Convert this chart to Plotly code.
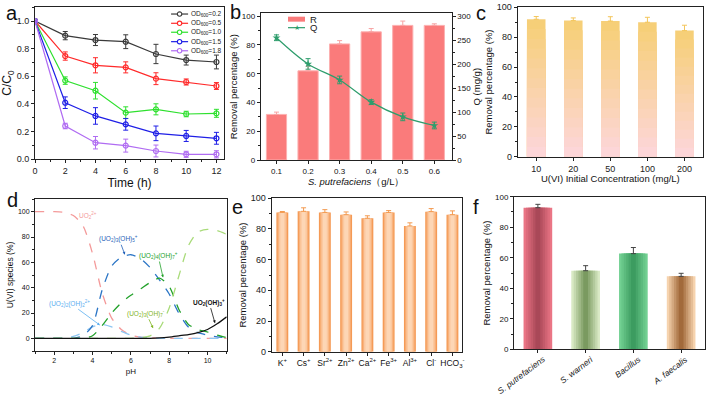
import plotly.graph_objects as go

FONT = "Liberation Sans, Arial, sans-serif"
AX = "#222222"

# ---------------- Panel a data ----------------
time_h = [0, 2, 4, 6, 8, 10, 12]
od_names = ["OD<sub>600</sub>=0.2", "OD<sub>600</sub>=0.5", "OD<sub>600</sub>=1.0",
            "OD<sub>600</sub>=1.5", "OD<sub>600</sub>=1.8"]
od_colors = ["#3a3a3a", "#ff2a2a", "#2ee02e", "#1f1fe6", "#b06cf2"]
od02 = [1.0, 0.894, 0.862, 0.850, 0.761, 0.717, 0.703]
od02_err = [0, 0.03, 0.04, 0.05, 0.07, 0.036, 0.05]
od05 = [1.0, 0.746, 0.679, 0.664, 0.582, 0.558, 0.529]
od05_err = [0, 0.03, 0.055, 0.04, 0.043, 0.022, 0.025]
od10 = [1.0, 0.568, 0.495, 0.336, 0.360, 0.326, 0.331]
od10_err = [0, 0.027, 0.06, 0.042, 0.04, 0.02, 0.029]
od15 = [1.0, 0.408, 0.312, 0.251, 0.186, 0.167, 0.150]
od15_err = [0, 0.042, 0.06, 0.042, 0.053, 0.04, 0.043]
od18 = [1.0, 0.239, 0.118, 0.097, 0.058, 0.034, 0.034]
od18_err = [0, 0.02, 0.045, 0.047, 0.043, 0.022, 0.026]

# ---------------- Panel b data ----------------
dose = [0.1, 0.2, 0.3, 0.4, 0.5, 0.6]
removal_R = [31.7, 62.0, 80.7, 89.1, 93.6, 93.6]
removal_R_err = [1.6, 3.2, 2.3, 2.3, 3.0, 1.1]
capacity_Q = [255, 200.4, 167, 120.7, 90, 72]
capacity_Q_err = [6, 11, 8, 5, 8, 7]

# ---------------- Panel c data ----------------
conc_labels = ["10", "20", "50", "100", "200"]
conc_removal = [92.0, 91.1, 90.8, 90.0, 84.4]
conc_err = [1.8, 1.8, 2.9, 3.3, 3.6]

# ---------------- Panel d data ----------------
pH = [1, 1.5, 2, 2.5, 3, 3.5, 4, 4.5, 5, 5.5, 6, 6.5, 7, 7.5, 8, 8.5, 9, 9.5, 10, 10.5, 11]
sp_UO2 = [100, 100, 100, 99.5, 97, 89, 67, 36, 16, 7, 2.5, 1, 0.4, 0, 0, 0, 0, 0, 0, 0, 0]
sp_22 = [0, 0, 0, 0, 1.5, 4.5, 9, 11, 9, 5.5, 2.5, 1, 0.3, 0, 0, 0, 0, 0, 0, 0, 0]
sp_35 = [0, 0, 0, 0, 0, 2, 10, 38, 57, 64, 66, 63, 56, 46, 35, 20, 9, 4.5, 2.6, 1.2, 0.3]
sp_47 = [0, 0, 0, 0, 0, 0, 2, 10, 20, 28, 34, 39, 44, 47.5, 41, 23, 11, 7, 5, 2.5, 0.5]
sp_37 = [0, 0, 0, 0, 0, 0, 0, 0, 0, 0, 0, 0.5, 2, 8, 24, 49, 73, 84, 86, 85, 82]
sp_13 = [0, 0, 0, 0, 0, 0, 0, 0, 0, 0, 0, 0, 0, 0.3, 1, 2, 3, 4.5, 7, 11.5, 17]

# ---------------- Panel e data ----------------
ion_labels = ["K<sup>+</sup>", "Cs<sup>+</sup>", "Sr<sup>2+</sup>", "Zn<sup>2+</sup>", "Ca<sup>2+</sup>",
              "Fe<sup>3+</sup>", "Al<sup>3+</sup>", "Cl<sup>-</sup>", "HCO<sub>3</sub><sup>-</sup>"]
ion_removal = [90.8, 91.5, 90.8, 89.3, 87.0, 90.8, 82.0, 91.3, 89.3]
ion_err = [0.6, 2.3, 1.8, 1.8, 1.6, 1.2, 2.0, 2.0, 2.5]

# ---------------- Panel f data ----------------
strain_labels = ["<i>S. putrefaciens</i>", "<i>S. warneri</i>", "<i>Bacillus</i>", "<i>A. faecalis</i>"]
strain_removal = [92.8, 51.5, 62.7, 47.8]
strain_err = [2.2, 3.3, 4.0, 2.0]

fig = go.Figure()

# ---------- helpers ----------
def hex2rgb(h):
    h = h.lstrip("#")
    return tuple(int(h[i:i + 2], 16) for i in (0, 2, 4))

def mix(c1, c2, t):
    a, b = hex2rgb(c1), hex2rgb(c2)
    return "rgb(%d,%d,%d)" % tuple(round(a[i] + (b[i] - a[i]) * t) for i in range(3))

def ax(**kw):
    d = dict(showline=True, linecolor=AX, linewidth=1, mirror=True, ticks="outside",
             ticklen=3, tickwidth=1, tickcolor=AX, showgrid=False, zeroline=False, automargin=False,
             tickfont=dict(size=9, color="#222"), title=dict(font=dict(size=10, color="#111")))
    d.update(kw)
    return d

# ---------- Panel a ----------
series_a = [(od02, od02_err), (od05, od05_err), (od10, od10_err), (od15, od15_err), (od18, od18_err)]
for (vals, errs), col, nm in zip(series_a, od_colors, od_names):
    fig.add_trace(go.Scatter(x=time_h, y=vals, name=nm, mode="lines+markers",
                             line=dict(color=col, width=1.2),
                             marker=dict(symbol="circle-open", size=5, color=col, line=dict(width=1.2)),
                             error_y=dict(type="data", array=errs, color=col, thickness=1, width=2.5),
                             xaxis="x", yaxis="y"))

# ---------- Panel b ----------
fig.add_trace(go.Bar(x=dose, y=removal_R, width=0.064, marker=dict(color="#fa7b7b", line=dict(color="#fcb0b0", width=1)),
                     error_y=dict(type="data", array=removal_R_err, arrayminus=[0] * len(dose), symmetric=False,
                                  color="#f7a3a3", thickness=1, width=2.5),
                     xaxis="x2", yaxis="y2", name="R"))
fig.add_trace(go.Scatter(x=dose, y=capacity_Q, mode="lines+markers", line=dict(color="#2e9d6c", width=1.2, shape="spline"),
                         marker=dict(symbol="star", size=6, color="#2e9d6c"),
                         error_y=dict(type="data", array=capacity_Q_err, color="#2e9d6c", thickness=1, width=2.5),
                         xaxis="x2", yaxis="y3", name="Q"))

# ---------- Panel c (vertical gradient: pink bottom -> yellow top) ----------
xc = list(range(len(conc_labels)))
NC = 14
for k in range(NC):
    frac = 1 - k / NC
    col = mix("#f6cf78", "#fdd6d8", k / (NC - 1))
    fig.add_trace(go.Bar(x=xc, y=[v * frac for v in conc_removal], width=0.5, marker=dict(color=col, line=dict(width=0)),
                         error_y=(dict(type="data", array=conc_err, arrayminus=[0] * len(xc), symmetric=False,
                                       color="#f3c55a", thickness=1, width=2.5) if k == 0 else None),
                         xaxis="x3", yaxis="y4", hoverinfo="skip"))

# ---------- Panel d ----------
species = [
    (sp_UO2, "#f49a9a", "dash"),
    (sp_22, "#8ec6f2", "dash"),
    (sp_35, "#2c76c6", "dash"),
    (sp_47, "#22a12a", "dash"),
    (sp_37, "#a9db7a", "dash"),
    (sp_13, "#111111", "solid"),
]
for vals, col, dash in species:
    fig.add_trace(go.Scatter(x=pH, y=vals, mode="lines", line=dict(color=col, width=1.3, dash=dash, shape="spline", smoothing=0.7),
                             xaxis="x4", yaxis="y5"))

# ---------- Panel e (horizontal shading) ----------
xe = list(range(len(ion_labels)))
e_layers = [(0.56, "#f59a55"), (0.44, "#f8b27c"), (0.32, "#fbc89f"), (0.18, "#fdd6b5")]
for i, (w, col) in enumerate(e_layers):
    last = i == len(e_layers) - 1
    fig.add_trace(go.Bar(x=xe, y=ion_removal, width=w, marker=dict(color=col, line=dict(width=0)),
                         error_y=(dict(type="data", array=ion_err, arrayminus=[0] * len(xe), symmetric=False,
                                       color="#f39a50", thickness=1, width=2.5) if last else None),
                         xaxis="x5", yaxis="y6", hoverinfo="skip"))

# ---------- Panel f (cylinder shading) ----------
xf = list(range(len(strain_labels)))
edge_cols = ["#ea7585", "#d8e9c4", "#72d092", "#f6d3ae"]
mid_cols = ["#a94858", "#7a9a60", "#3c9c60", "#a26a3b"]
NF = 6
for k in range(NF):
    t = k / (NF - 1)
    w = 0.6 * (1 - k / NF)
    cols = [mix(e, m, t) for e, m in zip(edge_cols, mid_cols)]
    last = k == NF - 1
    fig.add_trace(go.Bar(x=xf, y=strain_removal, width=w, marker=dict(color=cols, line=dict(width=0)),
                         error_y=(dict(type="data", array=strain_err, arrayminus=[0] * len(xf), symmetric=False,
                                       color="#444", thickness=1, width=2.5) if last else None),
                         xaxis="x6", yaxis="y7", hoverinfo="skip"))

W, H = 708.0, 397.0
def dx(a, b): return [a / W, b / W]
def dy(top, bot): return [1 - bot / H, 1 - top / H]

minor = dict(ticks="outside", ticklen=2, tickcolor=AX, showgrid=False)

fig.update_layout(
    width=708, height=397, margin=dict(l=0, r=0, t=0, b=0, autoexpand=False),
    paper_bgcolor="white", plot_bgcolor="white", showlegend=False, barmode="overlay",
    font=dict(family=FONT, color="#111"),
    # a
    xaxis=ax(domain=dx(35, 224), anchor="y", range=[0, 12.5], tickvals=[0, 2, 4, 6, 8, 10, 12], minor=dict(dtick=1, **minor),
             title=dict(text="Time (h)", font=dict(size=12), standoff=2)),
    yaxis=ax(domain=dy(7.2, 159), anchor="x", range=[0, 1.1], tickvals=[0, 0.2, 0.4, 0.6, 0.8, 1.0], tickformat=".1f",
             minor=dict(dtick=0.1, **minor), title=dict(text="C/C<sub>0</sub>", font=dict(size=12), standoff=2)),
    # b
    xaxis2=ax(domain=dx(260.7, 451.7), anchor="y2", range=[0.05, 0.655], tickvals=dose, tickfont=dict(size=8),
              title=dict(text="<i>S. putrefaciens</i>（g/L）", font=dict(size=9.5), standoff=2)),
    yaxis2=ax(domain=dy(13.3, 160), anchor="x2", range=[0, 102], tickvals=[0, 20, 40, 60, 80, 100], mirror=False,
              tickfont=dict(size=8), minor=dict(dtick=10, **minor),
              title=dict(text="Removal percentage (%)", font=dict(size=9.5), standoff=2)),
    yaxis3=ax(domain=dy(13.3, 160), anchor="x2", overlaying="y2", side="right", range=[0, 306],
              tickvals=[0, 50, 100, 150, 200, 250, 300], tickfont=dict(size=8), mirror=False,
              minor=dict(dtick=25, **minor), title=dict(text="Q (mg/g)", font=dict(size=9.5), standoff=0)),
    # c
    xaxis3=ax(domain=dx(517.7, 703), anchor="y4", range=[-0.5, 4.5], tickvals=xc, ticktext=conc_labels,
              title=dict(text="U(VI) Initial Concentration (mg/L)", font=dict(size=9.5), standoff=0)),
    yaxis4=ax(domain=dy(7.3, 156.7), anchor="x3", range=[0, 100], tickvals=[0, 20, 40, 60, 80, 100],
              minor=dict(dtick=10, **minor), title=dict(text="Removal percentage (%)", font=dict(size=9.5), standoff=2)),
    # d
    xaxis4=ax(domain=dx(35, 226.7), anchor="y5", range=[1, 11], tickvals=[2, 4, 6, 8, 10], tickfont=dict(size=7),
              minor=dict(dtick=1, **minor), title=dict(text="pH", font=dict(size=8), standoff=4)),
    yaxis5=ax(domain=dy(199, 351), anchor="x4", range=[-10, 110], tickvals=[0, 20, 40, 60, 80, 100], tickfont=dict(size=7),
              minor=dict(dtick=10, **minor), title=dict(text="U(VI) species (%)", font=dict(size=8.5), standoff=2)),
    # e
    xaxis5=ax(domain=dx(271.7, 462), anchor="y6", range=[-0.5, 8.45], tickvals=xe, ticktext=ion_labels, tickfont=dict(size=8.5)),
    yaxis6=ax(domain=dy(198.3, 351.7), anchor="x5", range=[0, 100], tickvals=[0, 20, 40, 60, 80, 100],
              minor=dict(dtick=10, **minor), title=dict(text="Removal percentage (%)", font=dict(size=9.5), standoff=2)),
    # f (rotated category labels drawn as annotations below)
    xaxis6=ax(domain=dx(514, 705), anchor="y7", range=[-0.5, 3.5], tickvals=xf, showticklabels=False),
    yaxis7=ax(domain=dy(196.7, 349.3), anchor="x6", range=[0, 100], tickvals=[0, 20, 40, 60, 80, 100], tickfont=dict(size=8),
              minor=dict(dtick=10, **minor), title=dict(text="Removal percentage (%)", font=dict(size=9.5), standoff=2)),
)

anns = []
shapes = []
# panel letters
for letter, x, y in [("a", 12, 13), ("b", 235, 12), ("c", 481, 13), ("d", 12, 200), ("e", 237, 207), ("f", 476, 207)]:
    anns.append(dict(text=letter, x=x / W, y=1 - y / H, xref="paper", yref="paper", showarrow=False,
                     font=dict(size=20, color="#111"), xanchor="center", yanchor="middle"))

# panel f rotated category labels (text end sits just right of each tick)
for xi, lab in zip(xf, strain_labels):
    anns.append(dict(text=lab, x=xi, y=0, xref="x6", yref="y7 domain", showarrow=False, textangle=-37,
                     xanchor="right", yanchor="top", xshift=12, yshift=-2, font=dict(size=8.5, color="#222")))

# panel a legend
leg_y = [0.955, 0.894, 0.835, 0.773, 0.713]
for yy, col, nm in zip(leg_y, od_colors, od_names):
    shapes.append(dict(type="line", xref="x domain", yref="y domain", x0=0.72, x1=0.81, y0=yy, y1=yy,
                       line=dict(color=col, width=1.2)))
    shapes.append(dict(type="circle", xref="x domain", yref="y domain", xsizemode="pixel", ysizemode="pixel",
                       xanchor=0.765, yanchor=yy, x0=-2.2, x1=2.2, y0=-2.2, y1=2.2,
                       line=dict(color=col, width=1.1), fillcolor="white"))
    anns.append(dict(text=nm, x=0.815, y=yy, xref="x domain", yref="y domain", showarrow=False,
                     xanchor="left", yanchor="middle", font=dict(size=6.5, color="#222")))

# panel b legend
shapes.append(dict(type="rect", xref="x2 domain", yref="y2 domain", x0=0.143, x1=0.232, y0=0.943, y1=0.977,
                   fillcolor="#fa7b7b", line=dict(width=0)))
shapes.append(dict(type="line", xref="x2 domain", yref="y2 domain", x0=0.143, x1=0.232, y0=0.902, y1=0.902,
                   line=dict(color="#2e9d6c", width=1.2)))
anns.append(dict(text="★", x=0.188, y=0.902, xref="x2 domain", yref="y2 domain", showarrow=False,
                 font=dict(size=7, color="#2e9d6c"), xanchor="center", yanchor="middle"))
anns.append(dict(text="R", x=0.25, y=0.96, xref="x2 domain", yref="y2 domain", showarrow=False,
                 font=dict(size=9.5, color="#222"), xanchor="left", yanchor="middle"))
anns.append(dict(text="Q", x=0.25, y=0.902, xref="x2 domain", yref="y2 domain", showarrow=False,
                 font=dict(size=9.5, color="#222"), xanchor="left", yanchor="middle"))

# panel d species labels
d_labels = [
    ("UO<sub>2</sub><sup>2+</sup>", 3.74, 96.6, None, None, "#f49a9a"),
    ("(UO<sub>2</sub>)<sub>3</sub>(OH)<sub>5</sub><sup>+</sup>", 5.69, 66, -6, -16, "#1f5fb8"),
    ("(UO<sub>2</sub>)<sub>4</sub>(OH)<sub>7</sub><sup>+</sup>", 7.68, 48, -5, -22, "#22a12a"),
    ("(UO<sub>2</sub>)<sub>2</sub>(OH)<sub>2</sub><sup>2+</sup>", 4.39, 10.4, -30, -22, "#5aaef0"),
    ("(UO<sub>2</sub>)<sub>3</sub>(OH)<sub>7</sub><sup>-</sup>", 7.16, 8, -7, -15, "#7fb41e"),
    ("<b>UO<sub>2</sub>(OH)<sub>3</sub><sup>+</sup></b>", 10.39, 12, -6, -21, "#111111"),
]
for txt, x, y, axp, ayp, col in d_labels:
    if axp is None:
        anns.append(dict(text=txt, x=x, y=y, xref="x4", yref="y5", showarrow=False,
                         font=dict(size=6.5, color=col), xanchor="center", yanchor="middle"))
    else:
        anns.append(dict(text=txt, x=x, y=y, xref="x4", yref="y5", showarrow=True, ax=axp, ay=ayp,
                         arrowhead=2, arrowsize=0.7, arrowwidth=0.8, arrowcolor=col, standoff=0,
                         font=dict(size=6.5, color=col)))

fig.update_layout(annotations=anns, shapes=shapes)
fig.write_html("out.html")
